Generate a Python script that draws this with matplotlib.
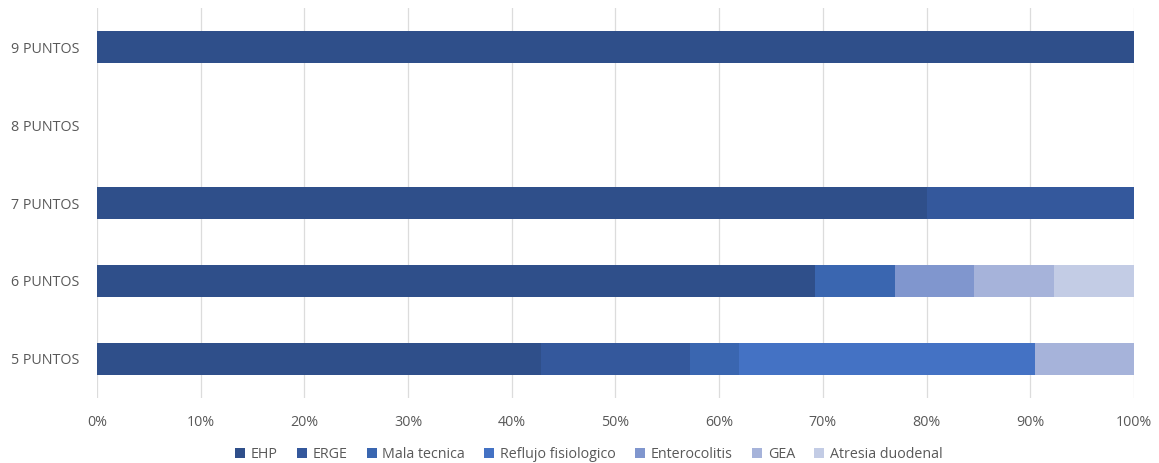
import matplotlib.pyplot as plt
import numpy as np

categorias = ['5 PUNTOS', '6 PUNTOS', '7 PUNTOS', '8 PUNTOS', '9 PUNTOS']
series = ['EHP', 'ERGE', 'Mala tecnica', 'Reflujo fisiologico',
          'Enterocolitis', 'GEA', 'Atresia duodenal']

# counts per category (5, 6, 7, 8, 9 puntos)
EHP = [9, 9, 4, 0, 1]
ERGE = [3, 0, 1, 0, 0]
mala_tecnica = [1, 1, 0, 0, 0]
reflujo = [6, 0, 0, 0, 0]
enterocolitis = [0, 1, 0, 0, 0]
GEA = [2, 1, 0, 0, 0]
atresia = [0, 1, 0, 0, 0]

colores = ['#2F4F8A', '#34589C', '#3A66B0', '#4472C4',
           '#8096CE', '#A6B3DA', '#C3CCE5']

datos = np.array([EHP, ERGE, mala_tecnica, reflujo, enterocolitis, GEA, atresia], dtype=float)
totales = datos.sum(axis=0)
totales[totales == 0] = 1
pct = datos / totales

plt.rcParams['font.family'] = ['Open Sans', 'DejaVu Sans']

fig = plt.figure(figsize=(11.59, 4.63), dpi=100)
ax = fig.add_axes([0.0837, 0.1404, 0.8947, 0.8423])

y = np.arange(len(categorias))
izq = np.zeros(len(categorias))
for i, nombre in enumerate(series):
    ax.barh(y, pct[i], left=izq, height=0.4, color=colores[i], label=nombre)
    izq += pct[i]

ax.set_xlim(0, 1)
ax.set_ylim(-0.5, len(categorias) - 0.5)
ax.set_xticks(np.arange(0, 1.01, 0.1))
ax.set_xticklabels([f'{int(round(v*100))}%' for v in np.arange(0, 1.01, 0.1)])
ax.set_yticks(y)
ax.set_yticklabels(categorias)
ax.grid(axis='x', color='#DCDCDC', linewidth=0.9)
ax.set_axisbelow(True)
for s in ax.spines.values():
    s.set_visible(False)
ax.tick_params(length=0, colors='#595959', labelsize=10.3)
ax.tick_params(axis='x', pad=12)
ax.tick_params(axis='y', pad=12.5)

fig.legend(loc='lower center', bbox_to_anchor=(0.508, -0.025), ncol=7, frameon=False,
           fontsize=10.3, handlelength=0.7, handleheight=0.7, handletextpad=0.4,
           columnspacing=1.35, labelcolor='#595959')

fig.savefig('out.png', dpi=100)
